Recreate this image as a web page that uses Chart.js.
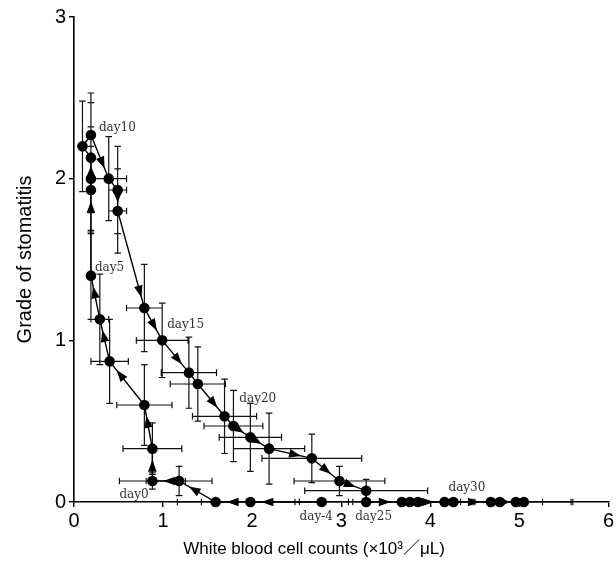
<!DOCTYPE html>
<html>
<head>
<meta charset="utf-8">
<script src="https://cdn.jsdelivr.net/npm/chart.js@4.4.1/dist/chart.umd.min.js"></script>
<style>
  html, body { margin: 0; padding: 0; background: #fff; }
  #wrap { width: 616px; height: 562px; }
</style>
</head>
<body>
<div id="wrap"><canvas id="chart" width="616" height="562"></canvas></div>
<script>
// ====================================
// Stomatitis grade vs WBC count, day -4 .. day 34
// ====================================

const days = [-4, -3, -2, -1, 0, 1, 2, 3, 4, 5, 6, 7, 8, 9, 10, 11, 12, 13, 14, 15,
              16, 17, 18, 19, 20, 21, 22, 23, 24, 25, 26, 27, 28, 29, 30, 31, 32, 33, 34];

// mean WBC (x10^3/uL)
const wbc = [2.78, 1.98, 1.59, 1.18, 0.88,
             0.88, 0.79, 0.40, 0.29, 0.19,
             0.19, 0.19, 0.19, 0.095, 0.19,
             0.39, 0.49, 0.49, 0.79, 0.99,
             1.29, 1.39, 1.69, 1.79, 1.98,
             2.19, 2.67, 2.98, 3.28, 3.28,
             3.68, 3.77, 3.86, 4.16, 4.26,
             4.68, 4.78, 4.96, 5.05];

// mean grade of stomatitis
const grade = [0, 0, 0, 0.13, 0.13,
               0.33, 0.60, 0.87, 1.13, 1.40,
               1.93, 2.00, 2.13, 2.20, 2.27,
               2.00, 1.93, 1.80, 1.20, 1.00,
               0.80, 0.73, 0.53, 0.47, 0.40,
               0.33, 0.27, 0.13, 0.07, 0,
               0, 0, 0, 0, 0,
               0, 0, 0, 0];

// SD bars
const wbcSd = [0.30, 0.55, 0.43, 0.37, 0.37,
               0.33, 0.31, 0.21, 0.10, 0.03,
               0.03, 0.03, 0.03, 0.03, 0.03,
               0.20, 0.10, 0.10, 0.20, 0.29,
               0.31, 0.31, 0.36, 0.33, 0.35,
               0.40, 0.56, 0.51, 0.69, 0.46,
               0.55, 0.50, 0.62, 0.30, 1.00,
               0.25, 0.30, 0.62, 0.55];

const gradeSd = [0, 0, 0, 0.09, 0.05,
                 0.16, 0.25, 0.26, 0.28, 0.27,
                 0.27, 0.32, 0.34, 0.28, 0.26,
                 0.26, 0.27, 0.26, 0.27, 0.23,
                 0.22, 0.23, 0.23, 0.22, 0.21,
                 0.22, 0.15, 0.09, 0.07, 0,
                 0, 0, 0, 0, 0,
                 0, 0, 0, 0];

const labelledDays = [-4, 0, 5, 10, 15, 20, 25, 30];

// pixel offsets of each day tag from its marker (left, baseline)
const tagOffsets = {
    '-4': [-22, 18], '0': [-33, 17], '5': [4, -5], '10': [8, -4],
    '15': [5, -12], '20': [-11, -35], '25': [-11, 18], '30': [-5, -11]
};

const errorBars = {
    id: 'errorBars',
    beforeDatasetsDraw(chart) {
        const { ctx, scales: { x, y } } = chart;
        const cap = 3.3;
        ctx.save();
        ctx.strokeStyle = '#111';
        ctx.lineWidth = 1.2;
        ctx.beginPath();
        for (let i = 0; i < wbc.length; i++) {
            const px = x.getPixelForValue(wbc[i]);
            const py = y.getPixelForValue(grade[i]);
            if (wbcSd[i] > 0) {
                const x0 = x.getPixelForValue(wbc[i] - wbcSd[i]);
                const x1 = x.getPixelForValue(wbc[i] + wbcSd[i]);
                ctx.moveTo(x0, py); ctx.lineTo(x1, py);
                ctx.moveTo(x0, py - cap); ctx.lineTo(x0, py + cap);
                ctx.moveTo(x1, py - cap); ctx.lineTo(x1, py + cap);
            }
            if (gradeSd[i] > 0) {
                const y0 = y.getPixelForValue(grade[i] - gradeSd[i]);
                const y1 = y.getPixelForValue(grade[i] + gradeSd[i]);
                ctx.moveTo(px, y0); ctx.lineTo(px, y1);
                ctx.moveTo(px - cap, y0); ctx.lineTo(px + cap, y0);
                ctx.moveTo(px - cap, y1); ctx.lineTo(px + cap, y1);
            }
        }
        ctx.stroke();
        ctx.restore();
    }
};

const arrowHeads = {
    id: 'arrowHeads',
    afterDatasetsDraw(chart) {
        const { ctx } = chart;
        const pts = chart.getDatasetMeta(0).data;
        ctx.save();
        ctx.fillStyle = '#000';
        for (let i = 1; i < pts.length; i++) {
            const a = pts[i - 1], b = pts[i];
            const dx = b.x - a.x, dy = b.y - a.y;
            const len = Math.hypot(dx, dy);
            if (len < 15) continue;
            const ux = dx / len, uy = dy / len;
            const back = Math.min(11, len * 0.4);
            const size = Math.min(12, len * 0.5);
            const half = 4.3;
            const tx = b.x - ux * back, ty = b.y - uy * back;
            const bx = tx - ux * size, by = ty - uy * size;
            ctx.beginPath();
            ctx.moveTo(tx, ty);
            ctx.lineTo(bx - uy * half, by + ux * half);
            ctx.lineTo(bx + uy * half, by - ux * half);
            ctx.closePath();
            ctx.fill();
        }
        ctx.restore();
    }
};

const dayTags = {
    id: 'dayTags',
    afterDatasetsDraw(chart) {
        const { ctx } = chart;
        const pts = chart.getDatasetMeta(0).data;
        ctx.save();
        ctx.font = '12px "DejaVu Serif"';
        ctx.fillStyle = '#333';
        ctx.textAlign = 'left';
        ctx.textBaseline = 'alphabetic';
        labelledDays.forEach(d => {
            const p = pts[days.indexOf(d)];
            const off = tagOffsets[String(d)];
            ctx.fillText('day' + d, p.x + off[0], p.y + off[1]);
        });
        ctx.restore();
    }
};

// x title sits left of centre in the original, so it is drawn here
const xTitle = {
    id: 'xTitle',
    afterDraw(chart) {
        const { ctx, chartArea } = chart;
        ctx.save();
        ctx.font = '17px "Liberation Sans", Arial, "Noto Sans CJK JP"';
        ctx.fillStyle = '#000';
        ctx.textAlign = 'center';
        ctx.textBaseline = 'middle';
        ctx.fillText('White blood cell counts (×10³／μL)', chartArea.left + 240, chartArea.bottom + 47);
        ctx.restore();
    }
};

const ctx = document.getElementById('chart').getContext('2d');

new Chart(ctx, {
    type: 'scatter',
    data: {
        datasets: [{
            data: wbc.map((v, i) => ({ x: v, y: grade[i] })),
            showLine: true,
            borderColor: '#000',
            borderWidth: 1.4,
            pointRadius: 5.3,
            pointBackgroundColor: '#000',
            pointBorderWidth: 0,
            tension: 0,
            clip: false
        }]
    },
    options: {
        responsive: false,
        animation: false,
        layout: { padding: { top: 17, right: 6, left: 0, bottom: 0 } },
        plugins: {
            legend: { display: false },
            tooltip: { enabled: false }
        },
        scales: {
            x: {
                type: 'linear',
                min: 0,
                max: 6,
                ticks: { stepSize: 1, color: '#000', padding: 2, font: { family: '"Liberation Sans", Arial', size: 20 } },
                grid: { drawOnChartArea: false, drawTicks: true, tickLength: 5, color: '#000', lineWidth: 1.4 },
                border: { display: true, color: '#000', width: 1.6 },
                afterFit: s => { s.height = 60; }
            },
            y: {
                min: 0,
                max: 3,
                ticks: { stepSize: 1, color: '#000', padding: 3, font: { family: '"Liberation Sans", Arial', size: 20 } },
                grid: { drawOnChartArea: false, drawTicks: true, tickLength: 5, color: '#000', lineWidth: 1.4 },
                border: { display: true, color: '#000', width: 1.6 },
                title: {
                    display: true,
                    text: 'Grade of stomatitis',
                    color: '#000',
                    font: { family: '"Liberation Sans", Arial', size: 20 },
                    padding: { top: 13, bottom: 0 }
                },
                afterFit: s => { s.width = 74; }
            }
        }
    },
    plugins: [errorBars, arrowHeads, dayTags, xTitle]
});
</script>
</body>
</html>
